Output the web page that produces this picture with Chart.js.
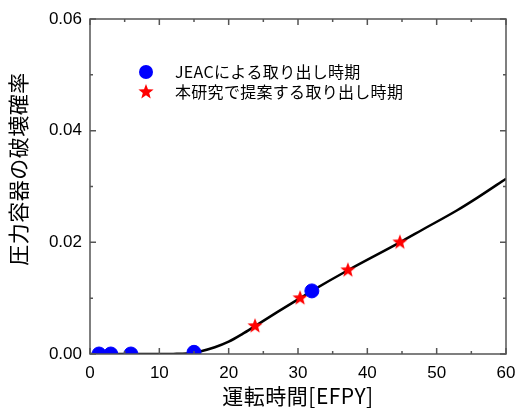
<!DOCTYPE html>
<html>
<head>
<meta charset="utf-8">
<script src="https://cdn.jsdelivr.net/npm/chart.js@4"></script>
<style>
  html, body { margin: 0; padding: 0; background: #fff; }
  #wrap { width: 518px; height: 417px; }
</style>
</head>
<body>
<div id="wrap"><canvas id="chart" width="518" height="417"></canvas></div>
<script>
// failure probability curve
const curveX = [0, 5, 10, 12, 14, 16, 18, 20, 22, 23.8, 27, 30.3, 32, 37.2, 44.7, 48, 52.9, 56, 60];
const curveY = [0, 0, 0, 0.00002, 0.0001, 0.0005, 0.0012, 0.0022, 0.0036, 0.005, 0.0075, 0.010, 0.0113, 0.015, 0.020, 0.0223, 0.0257, 0.0281, 0.0314];

// JEAC withdrawal times
const jeacX = [1.3, 3.0, 5.9, 15.0, 32.0];
const jeacY = [0, 0, 0, 0.0003, 0.0113];

// proposed withdrawal times
const propX = [23.8, 30.3, 37.2, 44.7];
const propY = [0.005, 0.010, 0.015, 0.020];

const labels = ['JEACによる取り出し時期', '本研究で提案する取り出し時期'];
const xTitle = '運転時間[EFPY]';
const yTitle = '圧力容器の破壊確率';

const FONT = '"Liberation Sans", Arial, "Noto Sans CJK JP", sans-serif';
const JFONT = '"Noto Sans CJK JP", "Liberation Sans", sans-serif';

// filled five point star for the red markers
function makeStar(r, color) {
  const c = document.createElement('canvas');
  c.width = c.height = r * 2 + 2;
  const g = c.getContext('2d');
  g.translate(r + 1, r + 1);
  g.beginPath();
  for (let i = 0; i < 10; i++) {
    const rad = i % 2 === 0 ? r : r * 0.42;
    const a = -Math.PI / 2 + i * Math.PI / 5;
    g.lineTo(rad * Math.cos(a), rad * Math.sin(a));
  }
  g.closePath();
  g.fillStyle = color;
  g.fill();
  return c;
}
const star = makeStar(8, '#ff0000');

const pts = (xs, ys) => xs.map((x, i) => ({ x: x, y: ys[i] }));

// frame + inward ticks on all four sides, legend and axis titles
const decor = {
  id: 'decor',
  afterDraw(chart) {
    const ctx = chart.ctx;
    const a = chart.chartArea;
    const xs = chart.scales.x, ys = chart.scales.y;
    ctx.save();
    ctx.strokeStyle = '#555';
    ctx.lineWidth = 1.5;
    ctx.strokeRect(a.left, a.top, a.right - a.left, a.bottom - a.top);
    ctx.beginPath();
    for (let v = 0; v <= 60; v += 5) {
      const p = xs.getPixelForValue(v);
      const len = v % 10 === 0 ? 6 : 3;
      ctx.moveTo(p, a.bottom); ctx.lineTo(p, a.bottom - len);
      ctx.moveTo(p, a.top); ctx.lineTo(p, a.top + len);
    }
    for (let k = 0; k <= 6; k++) {
      const p = ys.getPixelForValue(k * 0.01);
      const len = k % 2 === 0 ? 6 : 3;
      ctx.moveTo(a.left, p); ctx.lineTo(a.left + len, p);
      ctx.moveTo(a.right, p); ctx.lineTo(a.right - len, p);
    }
    ctx.stroke();

    // legend
    const lx = a.left + 56, ly = a.top + 53;
    ctx.fillStyle = '#0000ff';
    ctx.beginPath(); ctx.arc(lx, ly, 7, 0, Math.PI * 2); ctx.fill();
    ctx.drawImage(star, lx - star.width / 2, ly + 20 - star.height / 2);
    ctx.fillStyle = '#000';
    ctx.font = '16px ' + JFONT;
    ctx.textBaseline = 'middle';
    ctx.textAlign = 'left';
    ctx.letterSpacing = '0.3px';
    ctx.fillText(labels[0], lx + 29, ly);
    ctx.fillText(labels[1], lx + 29, ly + 20);

    // axis titles
    ctx.font = '21px ' + JFONT;
    ctx.letterSpacing = '0.5px';
    ctx.textAlign = 'center';
    ctx.fillText(xTitle, 298, 396);
    ctx.translate(18, 169);
    ctx.rotate(-Math.PI / 2);
    ctx.fillText(yTitle, 0, 0);
    ctx.restore();
  }
};

new Chart(document.getElementById('chart'), {
  type: 'scatter',
  data: {
    datasets: [
      {
        label: labels[0],
        data: pts(jeacX, jeacY),
        backgroundColor: '#0000ff',
        borderColor: '#0000ff',
        pointRadius: 7,
        order: 1
      },
      {
        label: labels[1],
        data: pts(propX, propY),
        pointStyle: star,
        backgroundColor: '#ff0000',
        order: 2
      },
      {
        label: 'curve',
        data: pts(curveX, curveY),
        showLine: true,
        borderColor: '#000',
        borderWidth: 2.5,
        pointRadius: 0,
        cubicInterpolationMode: 'monotone',
        order: 3
      }
    ]
  },
  options: {
    responsive: false,
    animation: false,
    layout: { padding: { top: 19, right: 12, left: 0, bottom: 0 } },
    plugins: { legend: { display: false }, tooltip: { enabled: false } },
    scales: {
      x: {
        type: 'linear', min: 0, max: 60,
        grid: { display: false, drawTicks: false },
        border: { display: false },
        ticks: { stepSize: 10, color: '#000', padding: 9, font: { size: 17, family: FONT } },
        afterFit(s) { s.height = 63; s.paddingRight = 0; s.paddingLeft = 0; }
      },
      y: {
        min: 0, max: 0.06,
        grid: { display: false, drawTicks: false },
        border: { display: false },
        ticks: {
          stepSize: 0.02, color: '#000', padding: 8,
          font: { size: 17, family: FONT },
          callback: v => v.toFixed(2)
        },
        afterFit(s) { s.width = 90; s.paddingTop = 0; s.paddingBottom = 0; }
      }
    }
  },
  plugins: [decor]
});
</script>
</body>
</html>
